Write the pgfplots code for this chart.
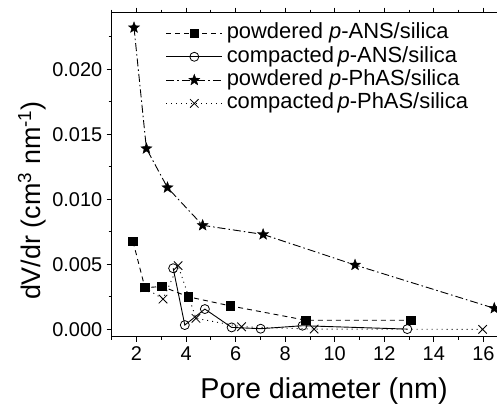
\documentclass[border=0pt]{standalone}
\usepackage{pgfplots}
\pgfplotsset{compat=1.18}
\usepackage{fontspec}
\setmainfont{Liberation Sans}

% filled five-pointed star
\pgfdeclareplotmark{fstar}{%
  \pgfpathmoveto{\pgfpointpolar{90}{\pgfplotmarksize}}%
  \pgfpathlineto{\pgfpointpolar{126}{0.42\pgfplotmarksize}}%
  \pgfpathlineto{\pgfpointpolar{162}{\pgfplotmarksize}}%
  \pgfpathlineto{\pgfpointpolar{198}{0.42\pgfplotmarksize}}%
  \pgfpathlineto{\pgfpointpolar{234}{\pgfplotmarksize}}%
  \pgfpathlineto{\pgfpointpolar{270}{0.42\pgfplotmarksize}}%
  \pgfpathlineto{\pgfpointpolar{306}{\pgfplotmarksize}}%
  \pgfpathlineto{\pgfpointpolar{342}{0.42\pgfplotmarksize}}%
  \pgfpathlineto{\pgfpointpolar{18}{\pgfplotmarksize}}%
  \pgfpathlineto{\pgfpointpolar{54}{0.42\pgfplotmarksize}}%
  \pgfpathclose
  \pgfusepathqfillstroke
}

% pore size distributions (dV/dr against pore diameter)
\pgfplotstableread{
x y
1.86 0.00675
2.34 0.0032
3.03 0.0033
4.10 0.0025
5.80 0.0018
8.84 0.0007
13.07 0.0007
}\powANS
\pgfplotstableread{
x y
3.48 0.0047
3.95 0.00033
4.76 0.00156
5.84 0.00015
7.01 0.00005
8.70 0.00028
12.93 0.00002
}\compANS
\pgfplotstableread{
x y
1.90 0.0232
2.40 0.0139
3.25 0.0109
4.67 0.0080
7.11 0.0073
10.82 0.00495
16.44 0.00162
}\powPhAS
\pgfplotstableread{
x y
2.34 0.0032
3.07 0.00233
3.68 0.0049
4.40 0.00085
6.24 0.0002
9.17 0.00002
15.97 0.0
}\compPhAS

\begin{document}
\begin{tikzpicture}
\begin{axis}[
  scale only axis,
  width=385.2bp, height=324bp,
  xmin=1, xmax=16.55,
  ymin=-0.00057, ymax=0.02435,
  xtick={2,4,...,16},
  minor xtick={1,3,...,15},
  ytick={0,0.005,0.01,0.015,0.02},
  minor ytick={0.0025,0.0075,0.0125,0.0175,0.0225},
  scaled y ticks=false,
  yticklabel style={/pgf/number format/fixed, /pgf/number format/fixed zerofill, /pgf/number format/precision=3},
  /pgf/number format/assume math mode=true,
  tick align=outside,
  xtick pos=both,
  ytick pos=left,
  major tick length=5bp,
  minor tick length=3bp,
  every tick/.style={black, line width=0.8bp},
  axis line style={line width=0.9bp},
  tick label style={font=\fontsize{20}{22}\selectfont, black},
  xticklabel style={yshift=-1bp},
  yticklabel style={xshift=-1bp},
  xlabel={Pore diameter (nm)},
  ylabel={dV/dr (cm\textsuperscript{3} nm\textsuperscript{-1})},
  xlabel style={font=\fontsize{28.8}{30}\selectfont, at={(axis description cs:0.551,-0.189)}, anchor=base},
  ylabel style={font=\fontsize{27}{29}\selectfont, at={(axis description cs:-0.186,0.42)}, anchor=base},
  legend cell align=left,
  legend image code/.code={
    \draw[mark repeat=2,mark phase=2] plot coordinates {(0bp,0bp) (28bp,0bp) (56bp,0bp)};
  },
  legend style={
    at={(axis description cs:0.140,0.972)}, anchor=north west,
    draw=none, fill=none, inner sep=0pt, row sep=0.3bp, column sep=3bp,
    nodes={inner sep=1bp, text height=16bp, text depth=5bp},
    font=\fontsize{22}{22}\selectfont,
  },
]
\addplot[black, line width=0.9bp, dash pattern=on 5bp off 4bp,
  mark=square*, mark size=4.2bp, mark options={solid, fill=black}]
  table[x=x,y=y] {\powANS};
\addlegendentry{powdered \textit{p}-ANS/silica}

\addplot[black, line width=0.9bp, solid,
  mark=o, mark size=4.5bp, mark options={solid, fill=white, line width=0.8bp}]
  table[x=x,y=y] {\compANS};
\addlegendentry{compacted\,\textit{p}-ANS/silica}

\addplot[black, line width=0.9bp, dash pattern=on 8bp off 3bp on 1.5bp off 3bp,
  mark=fstar, mark size=5.8bp, mark options={solid, fill=black, line width=0.4bp}]
  table[x=x,y=y] {\powPhAS};
\addlegendentry{powdered \textit{p}-PhAS/silica}

\addplot[black, line width=0.9bp, dash pattern=on 1bp off 4bp,
  mark=x, mark size=6bp, mark options={solid, line width=0.8bp}]
  table[x=x,y=y] {\compPhAS};
\addlegendentry{compacted\,\textit{p}-PhAS/silica}
\end{axis}
\pgfresetboundingbox
\path[use as bounding box]
  ([xshift=-111.7bp,yshift=-66.3bp]current axis.south west)
  rectangle ([xshift=385.2bp,yshift=336.7bp]current axis.south west);
\end{tikzpicture}
\end{document}
